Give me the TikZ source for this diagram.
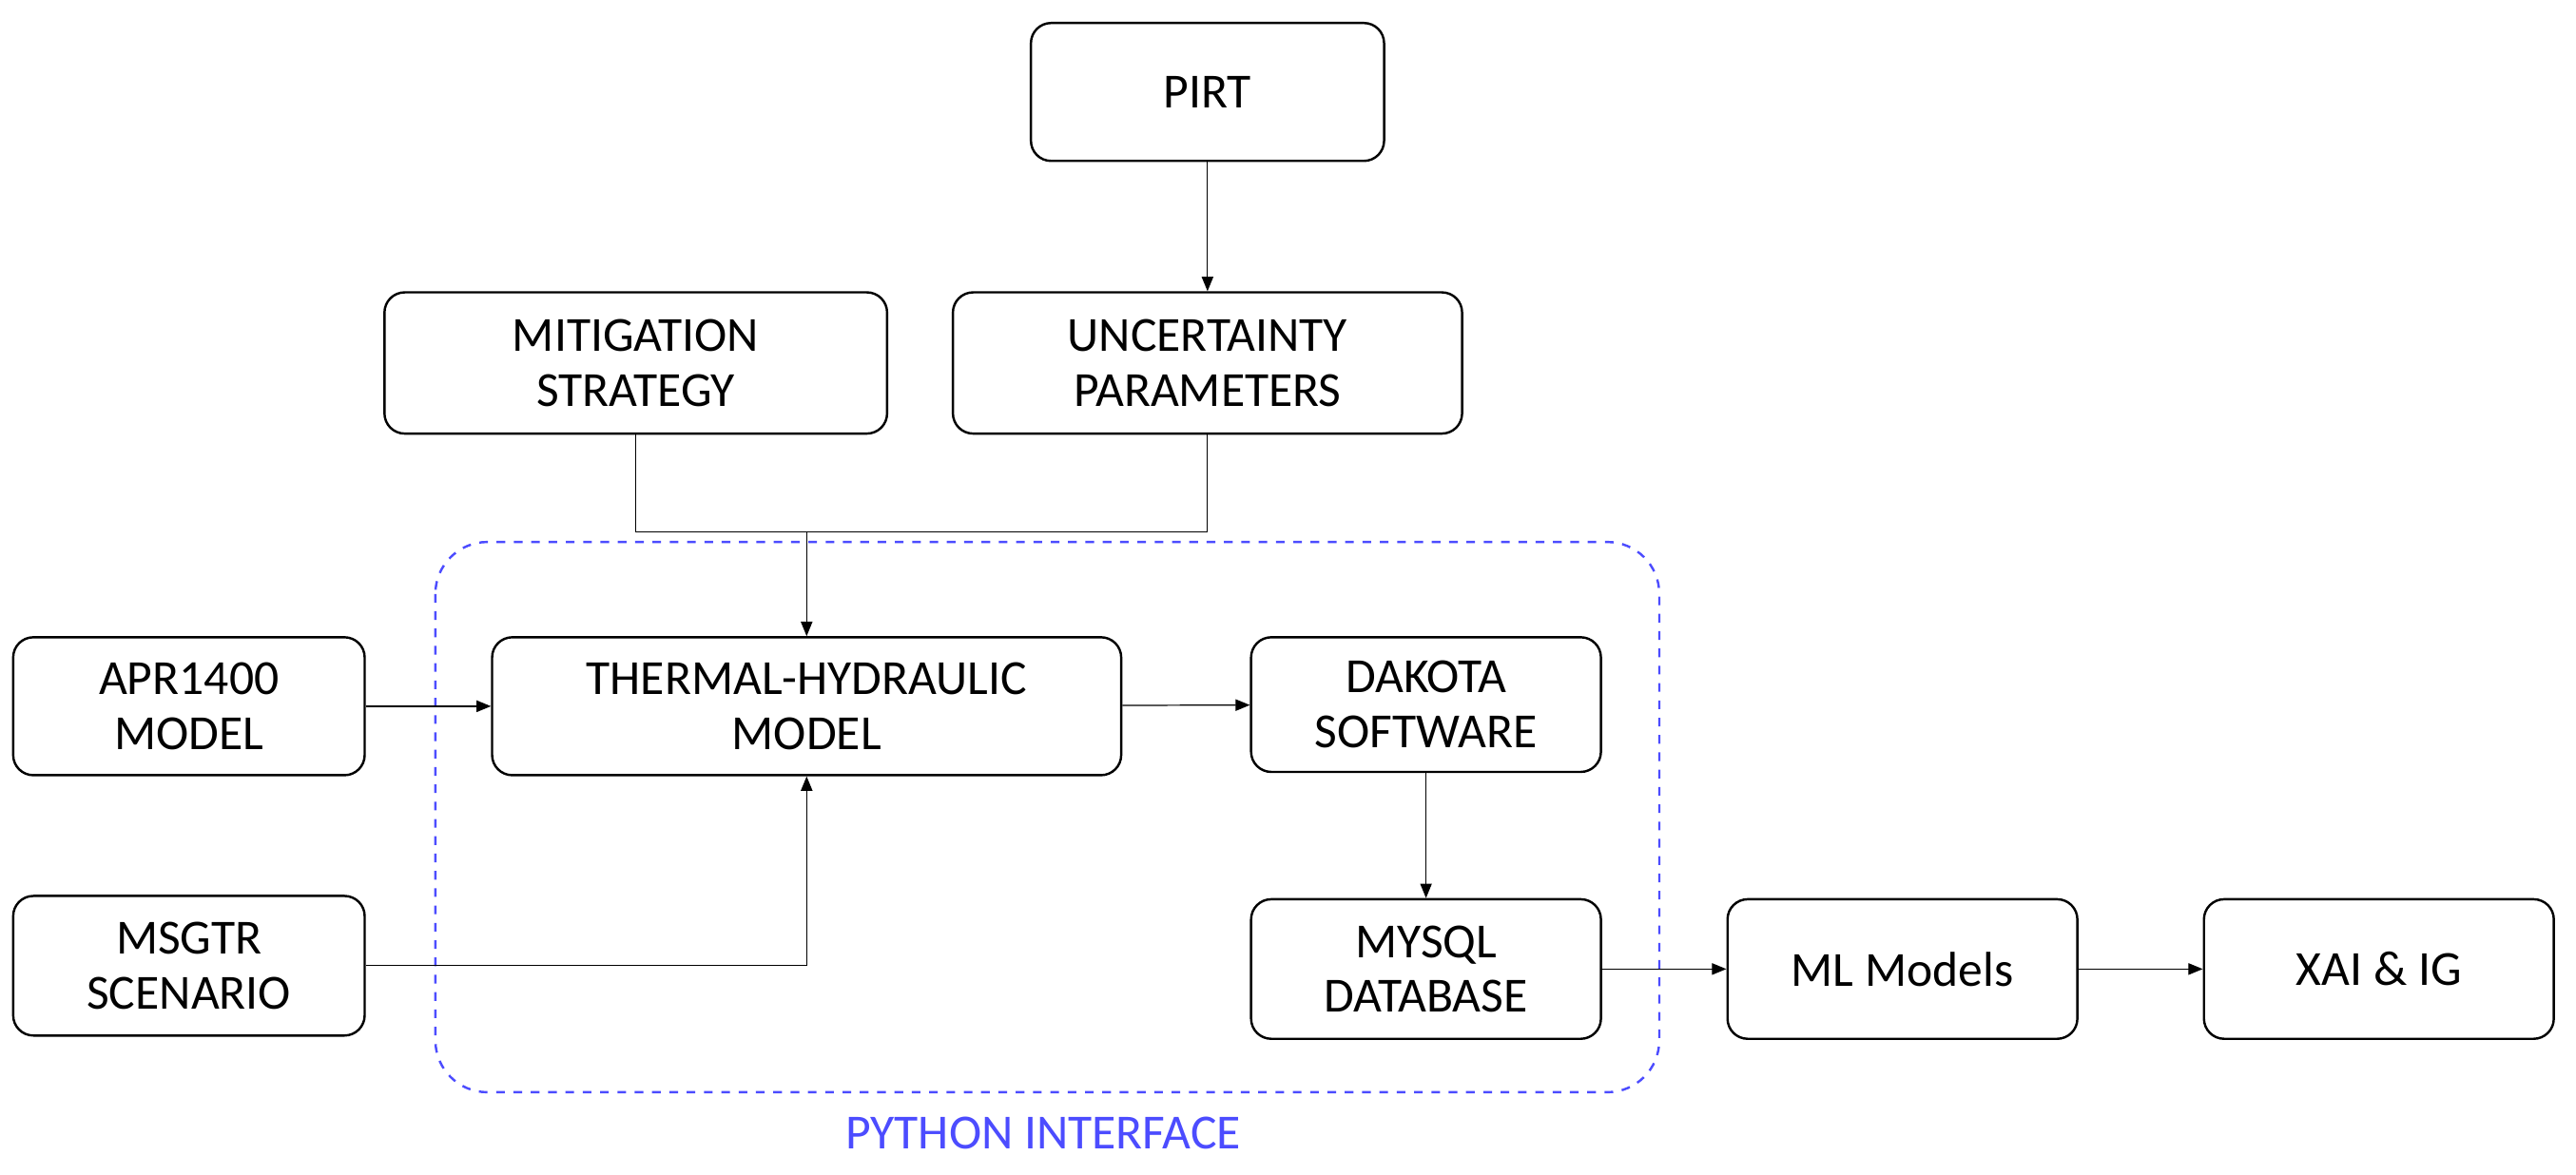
\documentclass[tikz,border=0pt]{standalone}
\usepackage{fontspec}
\setmainfont{Carlito}
\usetikzlibrary{arrows.meta,positioning}
\begin{document}
\begin{tikzpicture}[x=0.02cm,y=-0.02cm,
  box/.style={draw, rounded corners=7pt, thick, align=center, font=\fontsize{17}{19}\selectfont, inner sep=0pt},
  >={Triangle[length=5pt,width=4pt]}]
\useasboundingbox (0,0) rectangle (1568,715);
\node (pirt)[box, minimum width=4.3cm, minimum height=1.68cm] at (735,56) {PIRT};
\node (mitig)[box, minimum width=6.12cm, minimum height=1.72cm] at (387,221) {MITIGATION\\STRATEGY};
\node (uncert)[box, minimum width=6.2cm, minimum height=1.72cm] at (735,221) {UNCERTAINTY\\PARAMETERS};
\node (apr)[box, minimum width=4.28cm, minimum height=1.68cm] at (115,430) {APR1400\\MODEL};
\node (thermal)[box, minimum width=7.66cm, minimum height=1.68cm] at (491,430) {THERMAL-HYDRAULIC\\MODEL};
\node (dakota)[box, minimum width=4.26cm, minimum height=1.64cm] at (868,429) {DAKOTA\\SOFTWARE};
\node (msgtr)[box, minimum width=4.28cm, minimum height=1.7cm] at (115,588) {MSGTR\\SCENARIO};
\node (mysql)[box, minimum width=4.26cm, minimum height=1.7cm] at (868,590) {MYSQL\\DATABASE};
\node (ml)[box, minimum width=4.26cm, minimum height=1.7cm] at (1158,590) {ML Models};
\node (xai)[box, minimum width=4.26cm, minimum height=1.7cm] at (1448,590) {XAI \& IG};
\draw[blue!70, dashed, thick, rounded corners=18pt] (265,330) rectangle (1010,665);
\node (python)[text=blue!70, font=\fontsize{17}{19}\selectfont] at (635,690) {PYTHON INTERFACE};
\coordinate (join) at (thermal.north |- 0,324);
\draw[->] (pirt) -- (uncert);
\draw (mitig.south) |- (join) -| (uncert.south);
\draw[->] (join) -- (thermal.north);
\draw[->] (apr) -- (thermal);
\draw[->] (msgtr.east) -| (thermal.south);
\draw[->] (thermal) -- (dakota);
\draw[->] (dakota) -- (mysql);
\draw[->] (mysql) -- (ml);
\draw[->] (ml) -- (xai);
\end{tikzpicture}
\end{document}
